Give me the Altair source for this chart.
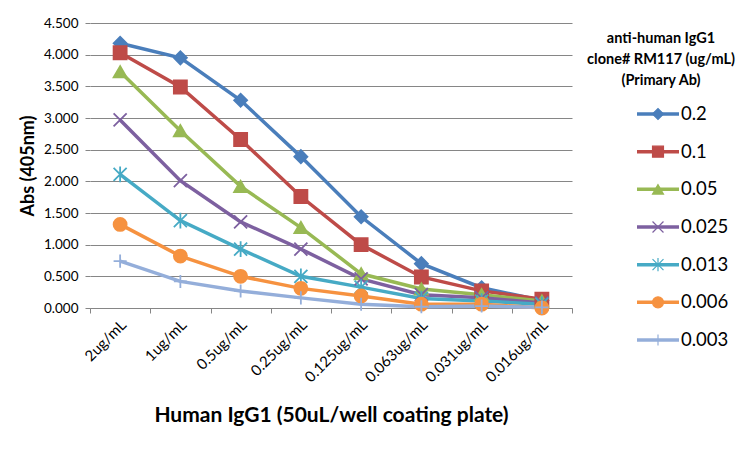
import altair as alt
import pandas as pd

categories = ["2ug/mL", "1ug/mL", "0.5ug/mL", "0.25ug/mL", "0.125ug/mL",
              "0.063ug/mL", "0.031ug/mL", "0.016ug/mL"]
series = ["0.2", "0.1", "0.05", "0.025", "0.013", "0.006", "0.003"]
y_ticks = [0.0, 0.5, 1.0, 1.5, 2.0, 2.5, 3.0, 3.5, 4.0, 4.5]

s_02 = [4.18, 3.95, 3.28, 2.39, 1.44, 0.70, 0.32, 0.12]
s_01 = [4.03, 3.49, 2.66, 1.76, 1.00, 0.49, 0.27, 0.14]
s_005 = [3.73, 2.80, 1.92, 1.27, 0.54, 0.30, 0.21, 0.11]
s_0025 = [2.97, 2.01, 1.36, 0.93, 0.46, 0.21, 0.16, 0.08]
s_0013 = [2.11, 1.38, 0.93, 0.50, 0.33, 0.15, 0.11, 0.06]
s_0006 = [1.32, 0.82, 0.50, 0.31, 0.19, 0.06, 0.06, 0.00]
s_0003 = [0.74, 0.42, 0.27, 0.16, 0.06, 0.02, 0.03, 0.01]
all_values = [s_02, s_01, s_005, s_0025, s_0013, s_0006, s_0003]

colors = ["#4A7EBB", "#BE4B48", "#98B954", "#7D60A0", "#46AAC5", "#F69240", "#94AEDA"]
shapes = ["diamond", "square", "triangle-up",
          "M-1,-1L1,1M-1,1L1,-1",
          "M-1,-1L1,1M-1,1L1,-1M0,-1.2L0,1.2",
          "circle",
          "M0,-1L0,1M-1,0L1,0"]

legend_title = ["anti-human IgG1", "clone# RM117 (ug/mL)", "(Primary Ab)"]
x_title = "Human IgG1 (50uL/well coating plate)"
y_title = "Abs (405nm)"

rows = []
for si, (s, vals) in enumerate(zip(series, all_values)):
    for ci, (c, v) in enumerate(zip(categories, vals)):
        rows.append({"series": s, "sorder": si, "cat": c, "value": v})
df = pd.DataFrame(rows)
leg_df = pd.DataFrame({"series": series, "sorder": list(range(len(series)))})

FONT = "Lato"
W, H = 482, 285
GRID = "#868686"

color_scale = alt.Scale(domain=series, range=colors)
shape_scale = alt.Scale(domain=series, range=shapes)

x_enc = alt.X("cat:N", sort=categories,
              scale=alt.Scale(type="band", paddingInner=0, paddingOuter=0),
              axis=alt.Axis(title=x_title, labelAngle=-45, labelAlign="right",
                            labelBaseline="middle", labelFontSize=15, labelPadding=9,
                            labelOffset=3,
                            tickBand="extent", tickSize=5, tickColor=GRID,
                            domainColor=GRID, grid=False,
                            titleFontSize=21, titleFontWeight="bold",
                            titlePadding=20, titleColor="#000", labelColor="#000"))


def y_enc(with_axis):
    kw = dict(scale=alt.Scale(domain=[0, 4.5], nice=False, zero=True))
    if with_axis:
        kw["axis"] = alt.Axis(title=y_title, values=y_ticks,
                              format=".3f", labelFontSize=13.5, labelColor="#000",
                              tickSize=5, tickColor=GRID, domain=False,
                              gridColor=GRID, gridOpacity=1, labelPadding=7,
                              labelOverlap=False,
                              titleFontSize=18, titleFontWeight="bold",
                              titleColor="#000", titlePadding=6)
    else:
        kw["axis"] = None
    return alt.Y("value:Q", **kw)


lines = alt.Chart(df).mark_line(strokeWidth=3.5).encode(
    x=x_enc,
    y=y_enc(True),
    color=alt.Color("series:N", scale=color_scale, legend=None),
    detail="sorder:O",
    order="sorder:O",
)

points = alt.Chart(df).mark_point(filled=True, strokeWidth=1.8, opacity=1).encode(
    x=alt.X("cat:N", sort=categories),
    y=y_enc(False),
    fill=alt.Fill("series:N", scale=color_scale, legend=None),
    stroke=alt.Stroke("series:N", scale=color_scale, legend=None),
    shape=alt.Shape("series:N", scale=shape_scale, legend=None),
    size=alt.value(170),
    order="sorder:O",
)

leg_y = alt.Y("series:N", sort=series,
              scale=alt.Scale(type="point", range=[91, 317], padding=0),
              axis=None)

leg_rule = alt.Chart(leg_df).mark_rule(strokeWidth=3.5).encode(
    x=alt.value(W + 65), x2=alt.value(W + 107), y=leg_y,
    color=alt.Color("series:N", scale=color_scale, legend=None),
)
leg_pts = alt.Chart(leg_df).mark_point(filled=True, strokeWidth=1.2, opacity=1).encode(
    x=alt.value(W + 86), y=leg_y,
    fill=alt.Fill("series:N", scale=color_scale, legend=None),
    stroke=alt.Stroke("series:N", scale=color_scale, legend=None),
    shape=alt.Shape("series:N", scale=shape_scale, legend=None),
    size=alt.value(120),
)
leg_txt = alt.Chart(leg_df).mark_text(align="left", baseline="middle",
                                      fontSize=18.5, font=FONT, color="#000").encode(
    x=alt.value(W + 109), y=leg_y, text="series:N",
)
leg_title = alt.Chart(pd.DataFrame({"t": [0]})).mark_text(
    text=legend_title, align="center", baseline="middle", fontSize=14.5,
    fontWeight="bold", font=FONT, lineHeight=21, color="#000"
).encode(x=alt.value(W + 89), y=alt.value(16))

chart = alt.layer(lines, points, leg_rule, leg_pts, leg_txt, leg_title).resolve_scale(
    y="independent"
).properties(
    width=W, height=H,
    autosize=alt.AutoSizeParams(type="none"),
    padding={"left": 82, "top": 15, "right": 164, "bottom": 128},
).configure(font=FONT).configure_view(stroke=None)

chart.save("out.html", embed_options={"renderer": "svg", "actions": False})
